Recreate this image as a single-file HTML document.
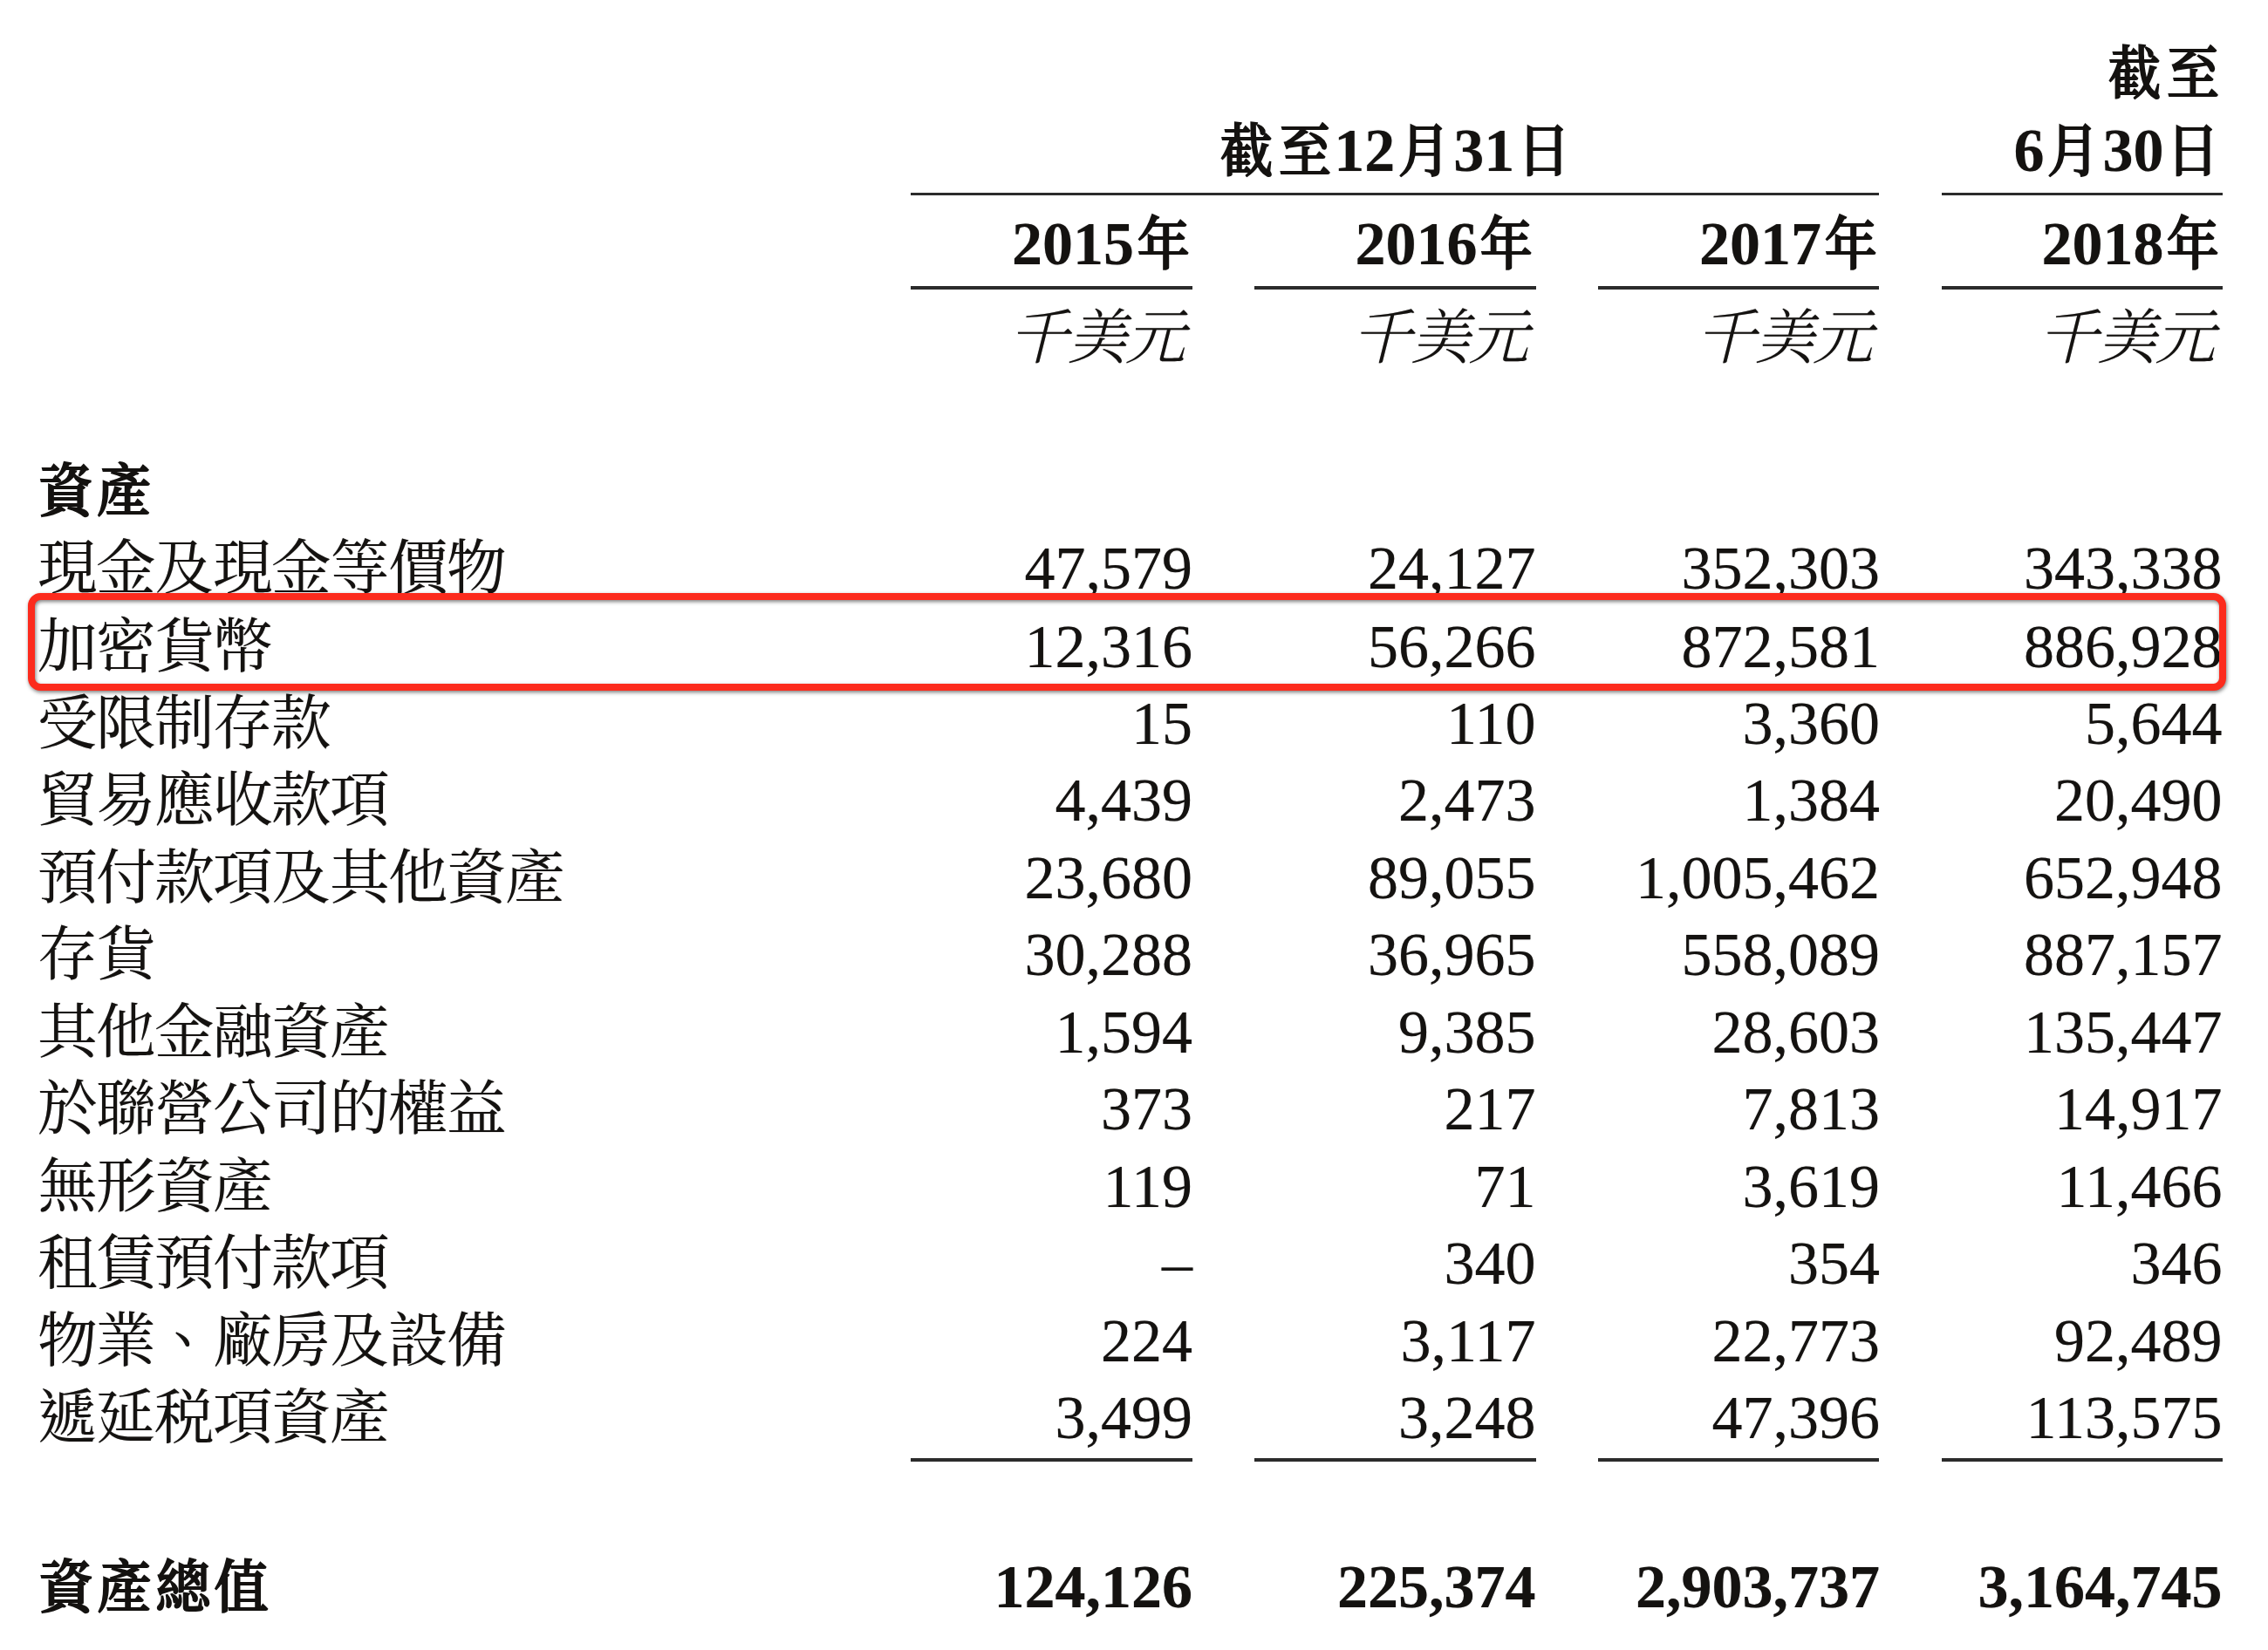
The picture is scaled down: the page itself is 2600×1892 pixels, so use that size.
<!DOCTYPE html>
<html lang="zh-Hant">
<head>
<meta charset="utf-8">
<title>資產</title>
<style>
html,body{margin:0;padding:0;background:#fff;}
body{width:2600px;height:1892px;position:relative;overflow:hidden;color:#141210;
 font-family:"Liberation Serif","Noto Serif CJK TC","Noto Serif CJK SC",serif;font-size:70px;}
#pg{position:absolute;left:0;top:0;width:2600px;height:1892px;}
.t{position:absolute;white-space:nowrap;text-shadow:0 0 1px rgba(20,18,16,.5);line-height:100px;height:100px;font-size:70px;}
.n{text-align:right;}
.l{left:43px;}
.c{font-size:68.7px;letter-spacing:-1.7px;line-height:0;}
.b{font-weight:bold;}
.g{display:inline-block;white-space:nowrap;text-align:left;line-height:0;font-size:66px;font-weight:500;-webkit-text-stroke:2px #141210;letter-spacing:7.63px;text-indent:3.81px;transform:scaleX(0.91);}
.g2{display:inline-block;white-space:nowrap;text-align:left;line-height:0;font-size:65.5px;font-weight:500;-webkit-text-stroke:2px #141210;letter-spacing:5.03px;text-indent:2.51px;transform:scaleX(0.95);}
.i{font-style:italic;font-weight:300;font-size:69px;letter-spacing:-2px;line-height:0;}
.hl{position:absolute;height:3.4px;background:#2b2b2b;}
.box{position:absolute;box-sizing:border-box;left:32px;top:680px;width:2520px;height:112px;border:8.5px solid #fc2b1d;border-radius:14.5px;filter:drop-shadow(1px 2px 2px rgba(0,0,0,.5));}
</style>
</head>
<body>
<div id="pg">

<div class="t n b" style="right:52.5px;top:34.4px"><span class="g" style="width:147.25px;margin:0 -6.63px">截至</span></div>
<div class="t b" style="left:1395.2px;top:123.4px"><span class="g" style="width:147.25px;margin:0 -6.63px">截至</span>12<span class="g" style="width:73.63px;margin:0 -3.31px">月</span>31<span class="g" style="width:73.63px;margin:0 -3.31px">日</span></div>
<div class="t n b" style="right:52.5px;top:123.4px">6<span class="g" style="width:73.63px;margin:0 -3.31px">月</span>30<span class="g" style="width:73.63px;margin:0 -3.31px">日</span></div>
<div class="hl" style="left:1044px;width:1110px;top:221.1px"></div>
<div class="hl" style="left:2226px;width:322px;top:221.1px"></div>
<div class="t n b" style="right:1233px;top:230.4px">2015<span class="g" style="width:73.63px;margin:0 -3.31px">年</span></div>
<div class="t n b" style="right:839.5px;top:230.4px">2016<span class="g" style="width:73.63px;margin:0 -3.31px">年</span></div>
<div class="t n b" style="right:445px;top:230.4px">2017<span class="g" style="width:73.63px;margin:0 -3.31px">年</span></div>
<div class="t n b" style="right:52.5px;top:230.4px">2018<span class="g" style="width:73.63px;margin:0 -3.31px">年</span></div>
<div class="hl" style="left:1044px;width:323px;top:328.3px"></div>
<div class="hl" style="left:1438px;width:322.5px;top:328.3px"></div>
<div class="hl" style="left:1832px;width:322px;top:328.3px"></div>
<div class="hl" style="left:2226px;width:322px;top:328.3px"></div>
<div class="t n " style="right:1243px;top:338.4px"><span class="i">千美元</span></div>
<div class="t n " style="right:849.5px;top:338.4px"><span class="i">千美元</span></div>
<div class="t n " style="right:455px;top:338.4px"><span class="i">千美元</span></div>
<div class="t n " style="right:62.5px;top:338.4px"><span class="i">千美元</span></div>
<div class="t l b" style="left:42px;top:512.8px"><span class="g2" style="width:141.05px;margin:0 -3.53px">資產</span></div>
<div class="t l " style="top:602.4px"><span class="c">現金及現金等價物</span></div>
<div class="t n " style="right:1233px;top:602.4px">47,579</div>
<div class="t n " style="right:839.5px;top:602.4px">24,127</div>
<div class="t n " style="right:445px;top:602.4px">352,303</div>
<div class="t n " style="right:52.5px;top:602.4px">343,338</div>
<div class="t l " style="top:691.9px"><span class="c">加密貨幣</span></div>
<div class="t n " style="right:1233px;top:691.9px">12,316</div>
<div class="t n " style="right:839.5px;top:691.9px">56,266</div>
<div class="t n " style="right:445px;top:691.9px">872,581</div>
<div class="t n " style="right:52.5px;top:691.9px">886,928</div>
<div class="t l " style="top:779.5px"><span class="c">受限制存款</span></div>
<div class="t n " style="right:1233px;top:779.5px">15</div>
<div class="t n " style="right:839.5px;top:779.5px">110</div>
<div class="t n " style="right:445px;top:779.5px">3,360</div>
<div class="t n " style="right:52.5px;top:779.5px">5,644</div>
<div class="t l " style="top:868.0px"><span class="c">貿易應收款項</span></div>
<div class="t n " style="right:1233px;top:868.0px">4,439</div>
<div class="t n " style="right:839.5px;top:868.0px">2,473</div>
<div class="t n " style="right:445px;top:868.0px">1,384</div>
<div class="t n " style="right:52.5px;top:868.0px">20,490</div>
<div class="t l " style="top:956.6px"><span class="c">預付款項及其他資產</span></div>
<div class="t n " style="right:1233px;top:956.6px">23,680</div>
<div class="t n " style="right:839.5px;top:956.6px">89,055</div>
<div class="t n " style="right:445px;top:956.6px">1,005,462</div>
<div class="t n " style="right:52.5px;top:956.6px">652,948</div>
<div class="t l " style="top:1045.1px"><span class="c">存貨</span></div>
<div class="t n " style="right:1233px;top:1045.1px">30,288</div>
<div class="t n " style="right:839.5px;top:1045.1px">36,965</div>
<div class="t n " style="right:445px;top:1045.1px">558,089</div>
<div class="t n " style="right:52.5px;top:1045.1px">887,157</div>
<div class="t l " style="top:1133.7px"><span class="c">其他金融資產</span></div>
<div class="t n " style="right:1233px;top:1133.7px">1,594</div>
<div class="t n " style="right:839.5px;top:1133.7px">9,385</div>
<div class="t n " style="right:445px;top:1133.7px">28,603</div>
<div class="t n " style="right:52.5px;top:1133.7px">135,447</div>
<div class="t l " style="top:1222.2px"><span class="c">於聯營公司的權益</span></div>
<div class="t n " style="right:1233px;top:1222.2px">373</div>
<div class="t n " style="right:839.5px;top:1222.2px">217</div>
<div class="t n " style="right:445px;top:1222.2px">7,813</div>
<div class="t n " style="right:52.5px;top:1222.2px">14,917</div>
<div class="t l " style="top:1310.8px"><span class="c">無形資產</span></div>
<div class="t n " style="right:1233px;top:1310.8px">119</div>
<div class="t n " style="right:839.5px;top:1310.8px">71</div>
<div class="t n " style="right:445px;top:1310.8px">3,619</div>
<div class="t n " style="right:52.5px;top:1310.8px">11,466</div>
<div class="t l " style="top:1399.3px"><span class="c">租賃預付款項</span></div>
<div class="t n " style="right:1233px;top:1399.3px">–</div>
<div class="t n " style="right:839.5px;top:1399.3px">340</div>
<div class="t n " style="right:445px;top:1399.3px">354</div>
<div class="t n " style="right:52.5px;top:1399.3px">346</div>
<div class="t l " style="top:1487.9px"><span class="c">物業、廠房及設備</span></div>
<div class="t n " style="right:1233px;top:1487.9px">224</div>
<div class="t n " style="right:839.5px;top:1487.9px">3,117</div>
<div class="t n " style="right:445px;top:1487.9px">22,773</div>
<div class="t n " style="right:52.5px;top:1487.9px">92,489</div>
<div class="t l " style="top:1576.4px"><span class="c">遞延税項資產</span></div>
<div class="t n " style="right:1233px;top:1576.4px">3,499</div>
<div class="t n " style="right:839.5px;top:1576.4px">3,248</div>
<div class="t n " style="right:445px;top:1576.4px">47,396</div>
<div class="t n " style="right:52.5px;top:1576.4px">113,575</div>
<div class="hl" style="left:1044px;width:323px;top:1672.3px"></div>
<div class="hl" style="left:1438px;width:322.5px;top:1672.3px"></div>
<div class="hl" style="left:1832px;width:322px;top:1672.3px"></div>
<div class="hl" style="left:2226px;width:322px;top:1672.3px"></div>
<div class="t l b" style="left:42px;top:1769.7px"><span class="g2" style="width:282.11px;margin:0 -7.05px">資產總值</span></div>
<div class="t n b" style="right:1233px;top:1769.7px">124,126</div>
<div class="t n b" style="right:839.5px;top:1769.7px">225,374</div>
<div class="t n b" style="right:445px;top:1769.7px">2,903,737</div>
<div class="t n b" style="right:52.5px;top:1769.7px">3,164,745</div>
<div class="box"></div>
</div>
</body>
</html>
